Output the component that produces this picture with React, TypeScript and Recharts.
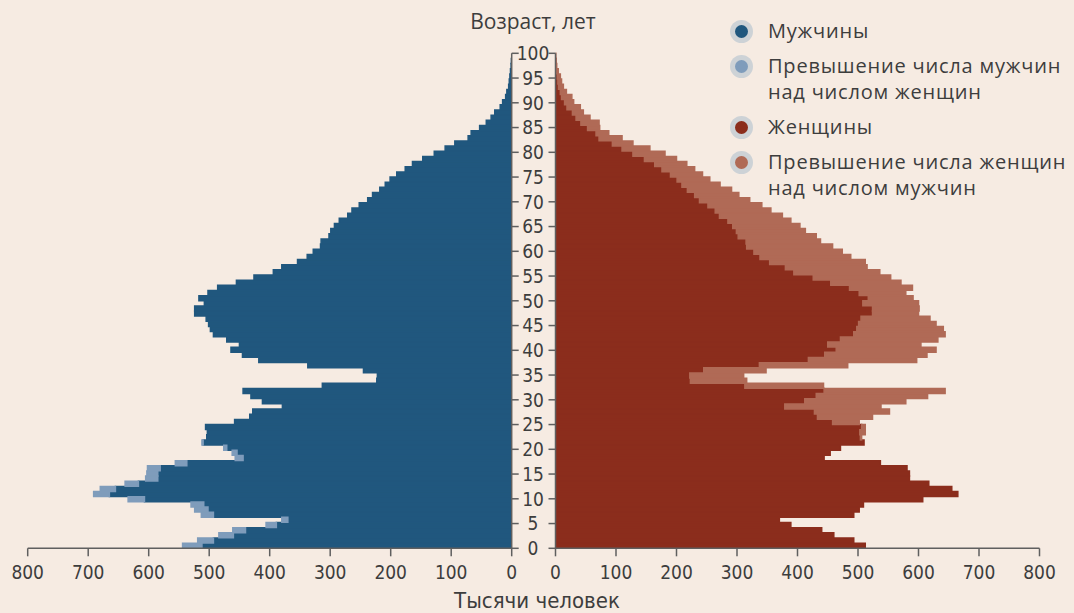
import React from 'react';
import { BarChart, Bar, XAxis, YAxis, LineChart } from 'recharts';

// Age groups (single years), bottom to top
const ages: number[] = Array.from({ length: 96 }, (_, i) => i);

// Thousands of people
const males: number[] = [
  544, 519, 484, 461, 406, 380, 513, 524, 530, 634,
  691, 680, 639, 605, 603, 602, 556, 457, 462, 476,
  512, 504, 503, 506, 458, 433, 428, 379, 412, 431,
  444, 313, 223, 222, 245, 337, 418, 445, 464, 450,
  471, 493, 498, 501, 505, 524, 524, 508, 517, 502,
  486, 455, 426, 394, 380, 354, 338, 328, 316, 315,
  302, 299, 293, 285, 271, 264, 252, 238, 230, 218,
  209, 201, 190, 176, 164, 147, 128, 110, 94, 72,
  67, 53, 42, 34, 28, 19, 15, 10, 8, 5,
  4, 3, 2, 1, 0.5, 0,
];

const females: number[] = [
  512, 493, 460, 440, 389, 370, 493, 502, 509, 607,
  665, 655, 617, 585, 585, 581, 537, 444, 454, 471,
  510, 506, 512, 512, 502, 524, 552, 538, 579, 615,
  644, 443, 316, 311, 348, 483, 597, 614, 629, 604,
  632, 644, 641, 629, 619, 600, 601, 600, 591, 579,
  590, 571, 554, 536, 515, 512, 488, 474, 458, 438,
  431, 413, 404, 389, 375, 356, 341, 321, 303, 291,
  272, 255, 243, 230, 217, 200, 181, 156, 128, 110,
  88, 73, 72, 57, 46, 41, 30, 27, 18, 13,
  10, 8, 4.5, 2, 1, 0.5,
];

const xTicks: number[] = [0, 100, 200, 300, 400, 500, 600, 700, 800];
const ageTicks: number[] = [0, 5, 10, 15, 20, 25, 30, 35, 40, 45, 50, 55, 60, 65, 70, 75, 80, 85, 90, 95, 100];

const legendItems = [
  { lines: ['Мужчины'], color: '#20577E' },
  { lines: ['Превышение числа мужчин', 'над числом женщин'], color: '#7F9CBB' },
  { lines: ['Женщины'], color: '#8B2D1C' },
  { lines: ['Превышение числа женщин', 'над числом мужчин'], color: '#B06A56' },
];

const rows = ages.map((age, i) => {
  const m = males[i];
  const f = females[i];
  return {
    age,
    base: Math.min(m, f),
    mEx: Math.max(0, m - f),
    fEx: Math.max(0, f - m),
  };
});

const BG = '#F6EBE2';
const AXIS = '#5f5f5f';
const NUM_FONT = '"Liberation Sans Narrow", "DejaVu Sans Condensed", "Roboto", sans-serif';
const TEXT_FONT = '"Open Sans", "Noto Sans", sans-serif';

const CHART_W = 1074;
const CHART_H = 613;
const TOP = 53.3;
const BOTTOM = 34.7;
const XAXIS_H = 30;
const PLOT_BOTTOM_GAP = BOTTOM + XAXIS_H;
const SEAM = 1.5;

const xTickStyle = { fontFamily: NUM_FONT, fontSize: 19, fill: '#3d3d3d' };

const EmptyTick = () => <g />;

const AgeTick = (props: any) => {
  const { x, y, payload } = props;
  return (
    <text
      x={x - 13.5}
      y={y}
      dy="0.36em"
      textAnchor="middle"
      fontFamily={NUM_FONT}
      fontSize={19}
      fill="#3d3d3d"
    >
      {payload.value}
    </text>
  );
};

const layer: React.CSSProperties = { position: 'absolute', left: 0, top: 0 };

export default function App() {
  return (
    <div
      style={{
        position: 'fixed',
        left: 0,
        top: 0,
        width: CHART_W,
        height: CHART_H,
        background: BG,
        overflow: 'hidden',
      }}
    >
      {/* Men (left) */}
      <div style={layer}>
        <BarChart
          layout="vertical"
          width={CHART_W}
          height={CHART_H}
          data={rows}
          margin={{ top: TOP, right: 562.3, bottom: BOTTOM, left: 27.7 }}
          barCategoryGap={0}
        >
          <XAxis
            type="number"
            domain={[0, 800]}
            ticks={xTicks}
            reversed
            allowDataOverflow
            height={XAXIS_H}
            tickSize={8}
            tickMargin={9}
            stroke={AXIS}
            strokeWidth={1.5}
            tick={xTickStyle}
            interval={0}
          />
          <YAxis yAxisId="cat" type="category" dataKey="age" reversed hide />
          <Bar yAxisId="cat" dataKey="base" stackId="m" fill="#20577E" stroke="#20577E" strokeWidth={SEAM} isAnimationActive={false} />
          <Bar yAxisId="cat" dataKey="mEx" stackId="m" fill="#7F9CBB" stroke="#7F9CBB" strokeWidth={SEAM} isAnimationActive={false} />
        </BarChart>
      </div>

      {/* Women (right) */}
      <div style={layer}>
        <BarChart
          layout="vertical"
          width={CHART_W}
          height={CHART_H}
          data={rows}
          margin={{ top: TOP, right: 34.5, bottom: BOTTOM, left: 555.5 }}
          barCategoryGap={0}
        >
          <XAxis
            type="number"
            domain={[0, 800]}
            ticks={xTicks}
            allowDataOverflow
            height={XAXIS_H}
            tickSize={8}
            tickMargin={9}
            stroke={AXIS}
            strokeWidth={1.5}
            tick={xTickStyle}
            interval={0}
          />
          <YAxis yAxisId="cat" type="category" dataKey="age" reversed hide />
          <Bar yAxisId="cat" dataKey="base" stackId="f" fill="#8B2D1C" stroke="#8B2D1C" strokeWidth={SEAM} isAnimationActive={false} />
          <Bar yAxisId="cat" dataKey="fEx" stackId="f" fill="#B06A56" stroke="#B06A56" strokeWidth={SEAM} isAnimationActive={false} />
        </BarChart>
      </div>

      {/* Age axis, men's side */}
      <div style={layer}>
        <LineChart
          width={CHART_W}
          height={CHART_H}
          data={rows}
          margin={{ top: TOP, right: 552.3, bottom: PLOT_BOTTOM_GAP, left: 27.7 }}
        >
          <XAxis dataKey="age" hide />
          <YAxis
            type="number"
            orientation="right"
            domain={[0, 100]}
            ticks={ageTicks}
            allowDataOverflow
            width={10}
            tickSize={7}
            stroke={AXIS}
            strokeWidth={1.5}
            tick={EmptyTick}
            interval={0}
          />
        </LineChart>
      </div>

      {/* Age axis, women's side */}
      <div style={layer}>
        <LineChart
          width={CHART_W}
          height={CHART_H}
          data={rows}
          margin={{ top: TOP, right: 34.5, bottom: PLOT_BOTTOM_GAP, left: 505.5 }}
        >
          <XAxis dataKey="age" hide />
          <YAxis
            type="number"
            orientation="left"
            domain={[0, 100]}
            ticks={ageTicks}
            allowDataOverflow
            width={50}
            tickSize={7}
            tickMargin={2}
            stroke={AXIS}
            strokeWidth={1.5}
            tick={AgeTick}
            interval={0}
          />
        </LineChart>
      </div>

      {/* Titles */}
      <div
        style={{
          position: 'absolute',
          left: 433,
          width: 200,
          top: 7,
          textAlign: 'center',
          fontFamily: TEXT_FONT,
          fontSize: 21,
          color: '#3d3d3d',
          lineHeight: '28px',
        }}
      >
        Возраст, лет
      </div>
      <div
        style={{
          position: 'absolute',
          left: 437,
          width: 200,
          top: 590,
          textAlign: 'center',
          fontFamily: NUM_FONT,
          fontSize: 22,
          color: '#3d3d3d',
          lineHeight: '22px',
        }}
      >
        Тысячи человек
      </div>

      {/* Legend */}
      <div style={{ position: 'absolute', left: 729, top: 18 }}>
        {legendItems.map((item, i) => (
          <div key={i} style={{ display: 'flex', alignItems: 'flex-start', marginBottom: 9 }}>
            <div
              style={{
                width: 24,
                height: 26,
                display: 'flex',
                alignItems: 'center',
                justifyContent: 'center',
                flexShrink: 0,
              }}
            >
              <div
                style={{
                  width: 23,
                  height: 23,
                  borderRadius: '50%',
                  background: '#CDD2D6',
                  display: 'flex',
                  alignItems: 'center',
                  justifyContent: 'center',
                }}
              >
                <div style={{ width: 13, height: 13, borderRadius: '50%', background: item.color }} />
              </div>
            </div>
            <div
              style={{
                marginLeft: 15,
                fontFamily: TEXT_FONT,
                fontSize: 20,
                lineHeight: '26px',
                color: '#3d3d3d',
                letterSpacing: 0.8,
                whiteSpace: 'nowrap',
              }}
            >
              {item.lines.map((l, j) => (
                <div key={j}>{l}</div>
              ))}
            </div>
          </div>
        ))}
      </div>
    </div>
  );
}
